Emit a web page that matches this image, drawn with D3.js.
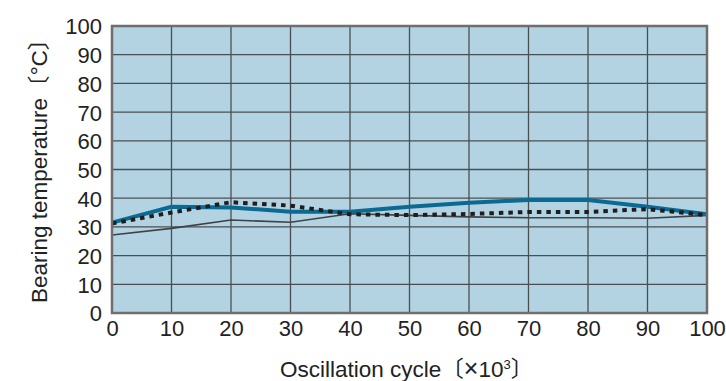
<!DOCTYPE html>
<html><head><meta charset="utf-8">
<script src="https://cdn.jsdelivr.net/npm/d3@7"></script>
<style>html,body{margin:0;padding:0;background:#fff}</style>
</head><body>
<svg id="c" width="726" height="381"></svg>
<script>
const cycles = [0,10,20,30,40,50,60,70,80,90,100];
const seriesBlue = [31.5,37,36.8,35.3,35.3,37,38.4,39.4,39.4,37,34.4];
const seriesDotted = [31.2,35,38.6,37.4,34.4,34.1,34.5,35.2,35.2,36.2,34.1];
const seriesThin = [27.2,29.5,32.4,31.6,34.6,34,33.5,33.2,33.2,33,34];
const xTicks = [0,10,20,30,40,50,60,70,80,90,100];
const yTicks = [0,10,20,30,40,50,60,70,80,90,100];

const svg = d3.select("#c");
const L=112, R=707, T=26, B=313;
const x = d3.scaleLinear().domain([0,100]).range([L,R]);
const y = d3.scaleLinear().domain([0,100]).range([B,T]);
const font = "'Liberation Sans', Arial, Helvetica, 'Noto Sans CJK JP', sans-serif";

svg.append("rect").attr("x",L).attr("y",T).attr("width",R-L).attr("height",B-T).attr("fill","#b3d3e2");

const g = svg.append("g");
g.selectAll("line.gx").data(xTicks.slice(1,-1)).join("line")
  .attr("x1",d=>x(d)).attr("x2",d=>x(d)).attr("y1",T).attr("y2",B)
  .attr("stroke","#4a4f52").attr("stroke-width",1.3);
g.selectAll("line.gy").data(yTicks.slice(1,-1)).join("line")
  .attr("y1",d=>y(d)).attr("y2",d=>y(d)).attr("x1",L).attr("x2",R)
  .attr("stroke","#4a4f52").attr("stroke-width",1.3);

const line = d3.line().x((d,i)=>x(cycles[i])).y(d=>y(d));
svg.append("path").datum(seriesThin).attr("d",line).attr("fill","none")
  .attr("stroke","#3f4244").attr("stroke-width",1.6);
svg.append("path").datum(seriesBlue).attr("d",line).attr("fill","none")
  .attr("stroke","#0b6a92").attr("stroke-width",4);
svg.append("path").datum(seriesDotted).attr("d",line).attr("fill","none")
  .attr("stroke","#1e1e1e").attr("stroke-width",4).attr("stroke-dasharray","4.5,5");

svg.append("rect").attr("x",L).attr("y",T).attr("width",R-L).attr("height",B-T)
  .attr("fill","none").attr("stroke","#6e6e6e").attr("stroke-width",2.5);

const xAxis = d3.axisBottom(x).tickValues(xTicks).tickSize(0).tickPadding(0).tickFormat(d3.format("d"));
const gx = svg.append("g").attr("transform",`translate(0,${B})`).call(xAxis);
gx.select(".domain").remove();
gx.selectAll("text").attr("font-family",font).attr("font-size",22).attr("fill","#222")
  .attr("dy",null).attr("y",22.5);

const yAxis = d3.axisLeft(y).tickValues(yTicks).tickSize(0).tickPadding(10).tickFormat(d3.format("d"));
const gy = svg.append("g").attr("transform",`translate(${L},0)`).call(yAxis);
gy.select(".domain").remove();
gy.selectAll("text").attr("font-family",font).attr("font-size",22).attr("fill","#222")
  .attr("dy","0.36em");

// axis titles
const xt = svg.append("text").attr("x",280).attr("y",376.5)
  .attr("font-family",font).attr("font-size",22.5).attr("fill","#222");
xt.append("tspan").text("Oscillation cycle");
xt.append("tspan").text("〔");
xt.append("tspan").attr("font-size",25).text("×");
xt.append("tspan").text("10");
xt.append("tspan").attr("font-size",13).attr("dy",-8).text("3");
xt.append("tspan").attr("dy",8).text("〕");

const yt = svg.append("text").attr("transform","translate(47,303) rotate(-90)")
  .attr("font-family",font).attr("font-size",22.5).attr("fill","#222");
yt.append("tspan").text("Bearing temperature");
yt.append("tspan").text("〔°C〕");
</script>
</body></html>
